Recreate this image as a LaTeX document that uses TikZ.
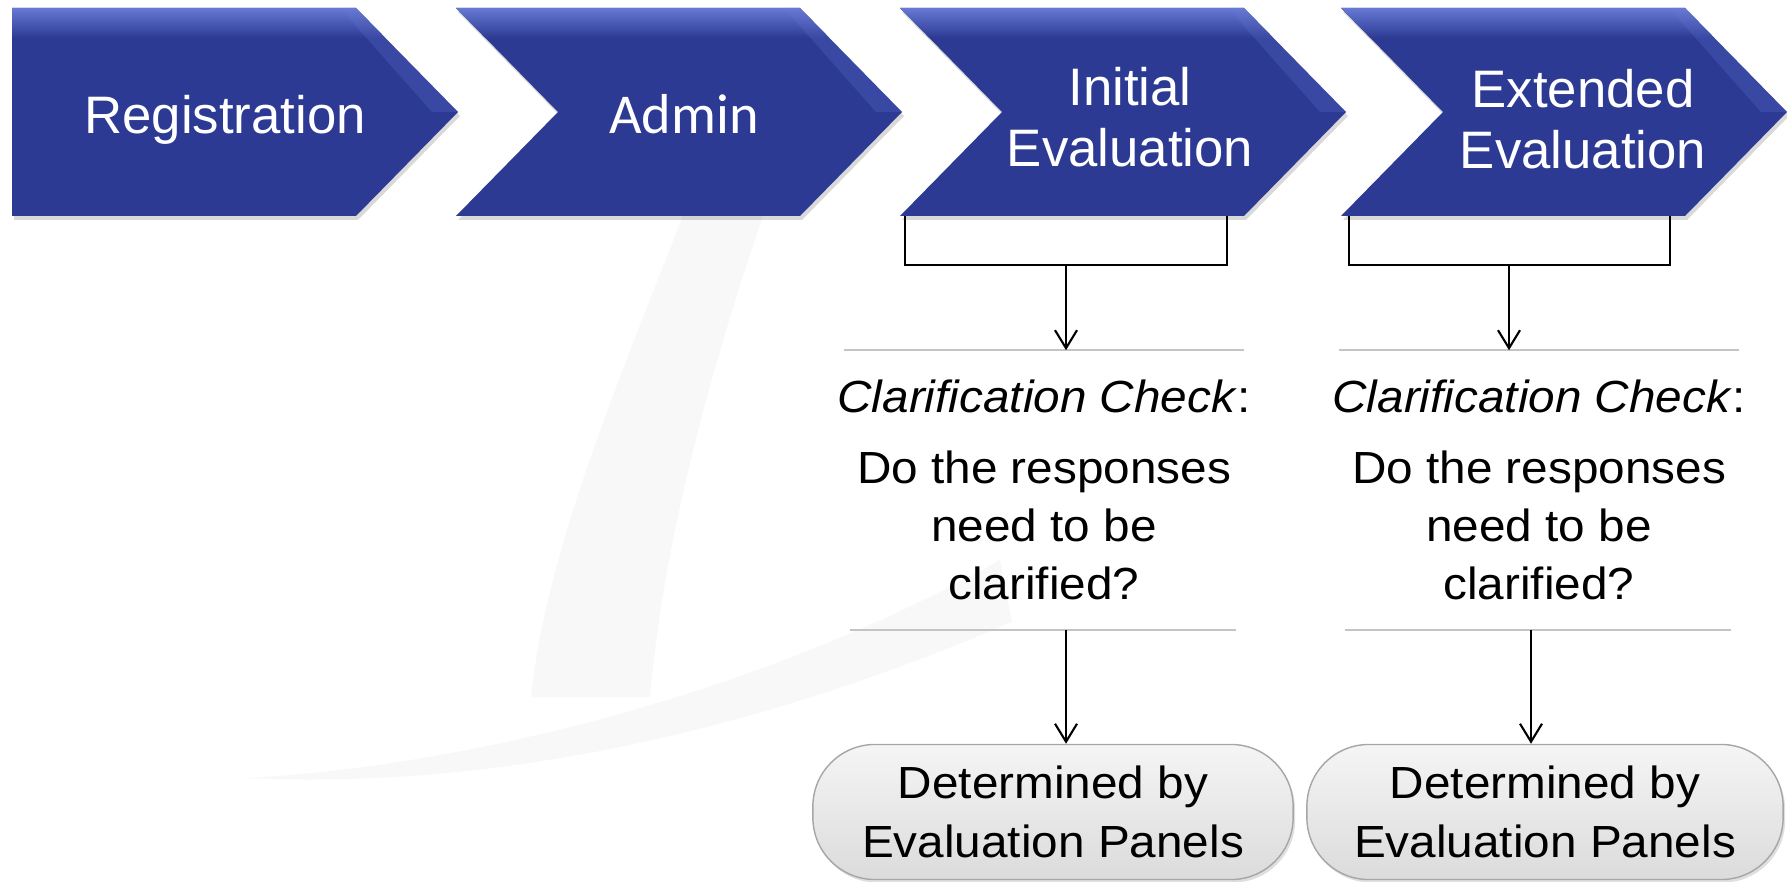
\documentclass[tikz,border=0pt]{standalone}
\usepackage{fontspec}
\setmainfont{Liberation Sans}
\newfontfamily\adminfont{Carlito}
\newfontfamily\widefont[FakeStretch=1.06]{Liberation Sans}
\usepackage{tikz}
\usetikzlibrary{arrows.meta}
\usetikzlibrary{calc,shadows}

\definecolor{chevblue}{HTML}{2C3A93}
\definecolor{chevlight}{HTML}{6B7DD8}
\definecolor{rulegray}{HTML}{C4C4C4}
\definecolor{markgray}{HTML}{F8F8F8}

\tikzset{
  chevtext/.style={text=white, align=center, font=\fontsize{15}{17.2}\selectfont},
  checktext/.style={align=center, inner sep=0pt, minimum height=2.78cm,
    font=\widefont\fontsize{12.8}{16.6}\selectfont},
  pill/.style={draw=black!35, line width=0.4pt, rounded corners=0.62cm,
    top color=white!96!black, bottom color=black!14, minimum height=1.35cm,
    align=center, inner sep=0pt, font=\widefont\fontsize{12.8}{16.8}\selectfont,
    drop shadow={opacity=0.25, shadow xshift=0.02cm, shadow yshift=-0.03cm}},
  arr/.style={-{Straight Barb[length=0.18cm, width=0.22cm]}, line width=0.6pt},
  bracket/.style={line width=0.7pt},
  rule/.style={rulegray, line width=0.6pt}
}

% chevron: #1 = left x, #2 = depth of the notch
\newcommand\chevron[2]{%
  \fill[chevblue, drop shadow={opacity=0.3, shadow xshift=0.02cm, shadow yshift=-0.04cm}]
    (#1,8) -- ({#1+344},8) -- ({#1+446},112) -- ({#1+344},216) -- (#1,216) -- ({#1+#2},112) -- cycle;
  \begin{scope}
    \clip (#1,8) -- ({#1+344},8) -- ({#1+446},112) -- ({#1+344},216) -- (#1,216) -- ({#1+#2},112) -- cycle;
    \shade[top color=chevlight, bottom color=chevblue] (#1,6) rectangle ({#1+446},38);
    \fill[chevlight, opacity=0.22] ({#1+328},8) -- ({#1+344},8) -- ({#1+446},112) -- ({#1+420},112) -- cycle;
  \end{scope}
}

\begin{document}
\begin{tikzpicture}[x=0.01cm, y=-0.01cm]

\useasboundingbox (0,0) rectangle (1787,882);

% faint watermark in the back
\fill[markgray] (683,216) .. controls (610,400) and (545,560) .. (531,697)
  -- (650,697) .. controls (662,560) and (700,400) .. (763,216) -- cycle;
\fill[markgray] (245,778) .. controls (450,768) and (750,700) .. (1000,560)
  -- (1012,622) .. controls (760,730) and (500,790) .. (245,778) -- cycle;

\foreach \L/\n in {12/0,456/102,900/102,1341/102} {
  \chevron{\L}{\n}
}

\node[chevtext] (reg) at (225,120) {Registration};
\node[chevtext, font=\adminfont\fontsize{16}{19}\selectfont] (adm) at (684,114) {Admin};
\node[chevtext] (ini) at (1130,117) {Initial\\Evaluation};
\node[chevtext] (ext) at (1583,119) {Extended\\Evaluation};

% clarification checks
\node[checktext] (ichk) at (1044,490)
  {\textit{Clarification Check}:\\[3.6pt] Do the responses\\need to be\\clarified?};
\node[checktext] (echk) at (1539,490)
  {\textit{Clarification Check}:\\[3.6pt] Do the responses\\need to be\\clarified?};

\foreach \c in {ichk,echk} {
  \draw[rule] ([xshift=-2cm]\c.north) -- ([xshift=2cm]\c.north);
  \draw[rule] ([xshift=-1.94cm]\c.south) -- ([xshift=1.92cm]\c.south);
}

% panels
\node[pill, minimum width=4.8cm] (idet) at (1053,812) {Determined by\\Evaluation Panels};
\node[pill, minimum width=4.76cm] (edet) at (1545,812) {Determined by\\Evaluation Panels};

% brackets under the two evaluations
\coordinate (iniL) at (905,216);
\coordinate (iniR) at (1227,216);
\coordinate (ibar) at (1066,265);
\coordinate (extL) at (1349,216);
\coordinate (extR) at (1670,216);
\coordinate (ebar) at (1509,265);

\draw[bracket] (iniL) |- (ibar) -| (iniR);
\draw[bracket] (extL) |- (ebar) -| (extR);

\draw[arr] (ibar) -- (ibar |- ichk.north);
\draw[arr] (ebar) -- (ebar |- echk.north);
\draw[arr] ([xshift=0.22cm]ichk.south) -- ([xshift=0.22cm]ichk.south |- idet.north);
\draw[arr] ([xshift=-0.08cm]echk.south) -- ([xshift=-0.08cm]echk.south |- edet.north);

\end{tikzpicture}
\end{document}
